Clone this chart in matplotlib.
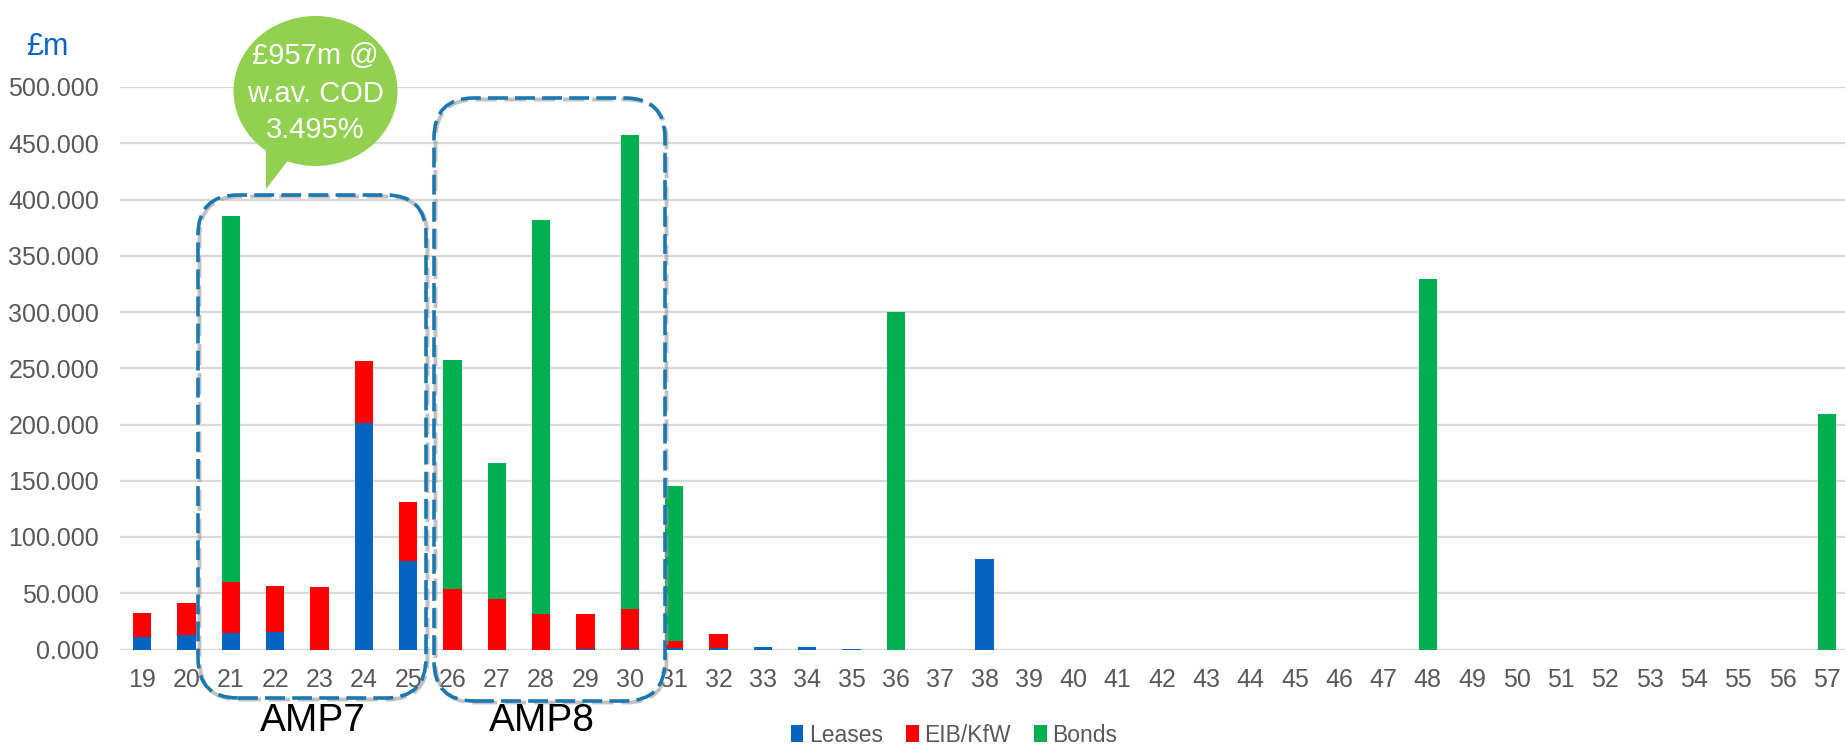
import matplotlib
matplotlib.use("Agg")
import matplotlib.pyplot as plt
import matplotlib.patches as mpatches
from matplotlib.transforms import IdentityTransform
import numpy as np

# maturity years (20xx) and repayments in £m
years = list(range(19, 58))
leases = {19: 11.5, 20: 13.0, 21: 14.5, 22: 15.7, 24: 201.7, 25: 78.8,
          29: 0.5, 30: 0.5, 31: 1.5, 32: 1.2, 33: 2.2, 34: 2.2, 35: 0.6, 38: 80.2}
eib = {19: 21.0, 20: 28.5, 21: 45.2, 22: 40.7, 23: 55.5, 24: 54.7, 25: 52.6,
       26: 53.4, 27: 44.5, 28: 31.4, 29: 30.9, 30: 35.5, 31: 6.1, 32: 12.4}
bonds = {21: 325.9, 26: 204.2, 27: 121.2, 28: 350.4, 30: 421.6, 31: 137.6,
         36: 300.0, 48: 328.9, 57: 209.4}

series_names = ["Leases", "EIB/KfW", "Bonds"]
series_colors = ["#0563C1", "#FF0000", "#00B050"]

W, H = 1845, 747
GREY = "#595959"
plt.rcParams["font.family"] = ["Liberation Sans", "DejaVu Sans"]

fig = plt.figure(figsize=(W / 100, H / 100), dpi=100)
ax = fig.add_axes([120 / W, 1 - 649.5 / H, (1849 - 120) / W, (649.5 - 87) / H])

x = np.arange(len(years))
bottom = np.zeros(len(years))
for name, col, d in zip(series_names, series_colors, [leases, eib, bonds]):
    vals = np.array([d.get(y, 0.0) for y in years])
    ax.bar(x, vals, 0.41, bottom=bottom, color=col, label=name, zorder=3)
    bottom += vals

ax.set_xlim(-0.5, len(years) - 0.5)
ax.set_ylim(0, 500)
ax.set_yticks(np.arange(0, 501, 50))
ax.yaxis.set_major_formatter(matplotlib.ticker.FuncFormatter(lambda v, p: f"{v:.3f}"))
ax.set_xticks(x)
ax.set_xticklabels([str(y) for y in years])
ax.tick_params(length=0, labelsize=18, labelcolor=GREY)
ax.tick_params(axis="x", pad=13)
ax.tick_params(axis="y", pad=15)
ax.grid(axis="y", color="#d9d9d9", lw=1.6, zorder=0)
for s in ax.spines.values():
    s.set_visible(False)

fig.text(26 / W, 1 - 47 / H, "£m", color="#0a64c8", fontsize=22, ha="left", va="center")

# legend under the plot
fig.legend(loc="center", bbox_to_anchor=(954 / W, 1 - 735 / H), ncol=3, frameon=False,
           fontsize=16.5, labelcolor=GREY, handlelength=0.55, handleheight=0.8,
           handletextpad=0.25, columnspacing=1.0)


def px(xp, yp):
    return (xp, H - yp)


# AMP period boxes, dashed and rounded
def amp_box(x0, y0, x1, y1, label, lx):
    shadow = mpatches.FancyBboxPatch(px(x0 + 1.5, y1 + 1.5), x1 - x0, y1 - y0,
                                     boxstyle="round,pad=0,rounding_size=40",
                                     transform=IdentityTransform(), fill=False,
                                     ec="#9a9a9a", lw=2.8, ls=(0, (5.5, 2)), alpha=0.6)
    box = mpatches.FancyBboxPatch(px(x0, y1), x1 - x0, y1 - y0,
                                  boxstyle="round,pad=0,rounding_size=40",
                                  transform=IdentityTransform(), fill=False,
                                  ec="#1b78b0", lw=2.6, ls=(0, (5.5, 2)))
    fig.add_artist(shadow)
    fig.add_artist(box)
    fig.text(lx / W, 1 - 721 / H, label, fontsize=28, ha="center", va="center", color="black")


amp_box(198, 195, 426, 698, "AMP7", 313)
amp_box(434, 98, 665, 701, "AMP8", 542)

# speech bubble over AMP7
bubble = mpatches.Ellipse(px(315.5, 91), 164, 150, transform=IdentityTransform(),
                          fc="#92D050", ec="none")
tail = mpatches.Polygon([px(266, 150), px(296, 150), px(266, 189)], closed=True,
                        transform=IdentityTransform(), fc="#92D050", ec="none")
fig.add_artist(tail)
fig.add_artist(bubble)
for txt, yy in [("£957m @", 56), ("w.av. COD", 94), ("3.495%", 130)]:
    fig.text(315.5 / W, 1 - yy / H, txt, color="white", fontsize=21, ha="center", va="center")

fig.savefig("out.png", dpi=100)
